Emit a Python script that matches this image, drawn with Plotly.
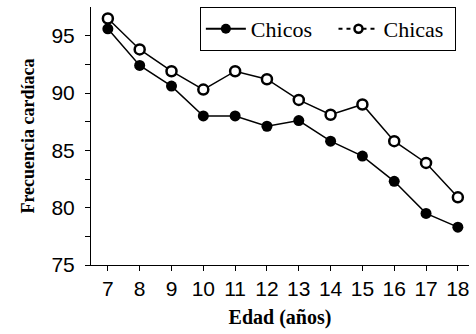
import plotly.graph_objects as go

edad = [7, 8, 9, 10, 11, 12, 13, 14, 15, 16, 17, 18]
chicos = [95.6, 92.4, 90.6, 88.0, 88.0, 87.1, 87.6, 85.8, 84.5, 82.3, 79.5, 78.3]
chicas = [96.5, 93.8, 91.9, 90.3, 91.9, 91.2, 89.4, 88.1, 89.0, 85.8, 83.9, 80.9]
y_ticks = [75, 80, 85, 90, 95]
y_minor = [77.5, 82.5, 87.5, 92.5]

fig = go.Figure()
fig.add_trace(go.Scatter(
    x=edad, y=chicos, mode="lines+markers", showlegend=False,
    line=dict(color="black", width=1.5),
    marker=dict(symbol="circle", size=11, color="black")))
fig.add_trace(go.Scatter(
    x=edad, y=chicas, mode="lines+markers", showlegend=False,
    line=dict(color="black", width=1.5),
    marker=dict(symbol="circle", size=10, color="white",
                line=dict(color="black", width=2.5))))
# legend entries
fig.add_trace(go.Scatter(
    x=[None], y=[None], mode="lines+markers", name="Chicos\u00a0\u00a0\u00a0",
    line=dict(color="black", width=2),
    marker=dict(symbol="circle", size=10, color="black")))
fig.add_trace(go.Scatter(
    x=[None], y=[None], mode="lines+markers", name="Chicas\u00a0",
    line=dict(color="black", width=2, dash="4px,4px"),
    marker=dict(symbol="circle", size=8, color="white",
                line=dict(color="black", width=2.5))))

fig.update_layout(
    width=476, height=334,
    margin=dict(l=91, r=7, t=7, b=69),
    plot_bgcolor="white", paper_bgcolor="white",
    font=dict(family="Liberation Sans, Arial", color="black", size=21),
    legend=dict(
        orientation="h", x=0.288, y=1.0, xanchor="left", yanchor="top",
        bgcolor="white", bordercolor="black", borderwidth=1,
        font=dict(family="Liberation Serif, Times New Roman", size=22),
        itemwidth=40, tracegroupgap=0,
    ),
    xaxis=dict(
        range=[6.47, 18.35], tickmode="array", tickvals=edad,
        showline=True, linecolor="black", linewidth=1,
        ticks="outside", ticklen=5, tickcolor="black",
        showgrid=False, zeroline=False,
        title=dict(text="<b>Edad (años)</b>", standoff=10,
                   font=dict(family="Liberation Serif, Times New Roman", size=20)),
    ),
    yaxis=dict(
        range=[75, 97.5], tickmode="array", tickvals=y_ticks,
        showline=True, linecolor="black", linewidth=1,
        ticks="outside", ticklen=5, tickcolor="black",
        minor=dict(tickvals=y_minor, ticks="outside", ticklen=5, tickcolor="black"),
        showgrid=False, zeroline=False, ticklabelstandoff=6,
        title=dict(text="<b>Frecuencia cardíaca</b>", standoff=12,
                   font=dict(family="Liberation Serif, Times New Roman", size=18)),
    ),
)

fig.write_html("out.html")
